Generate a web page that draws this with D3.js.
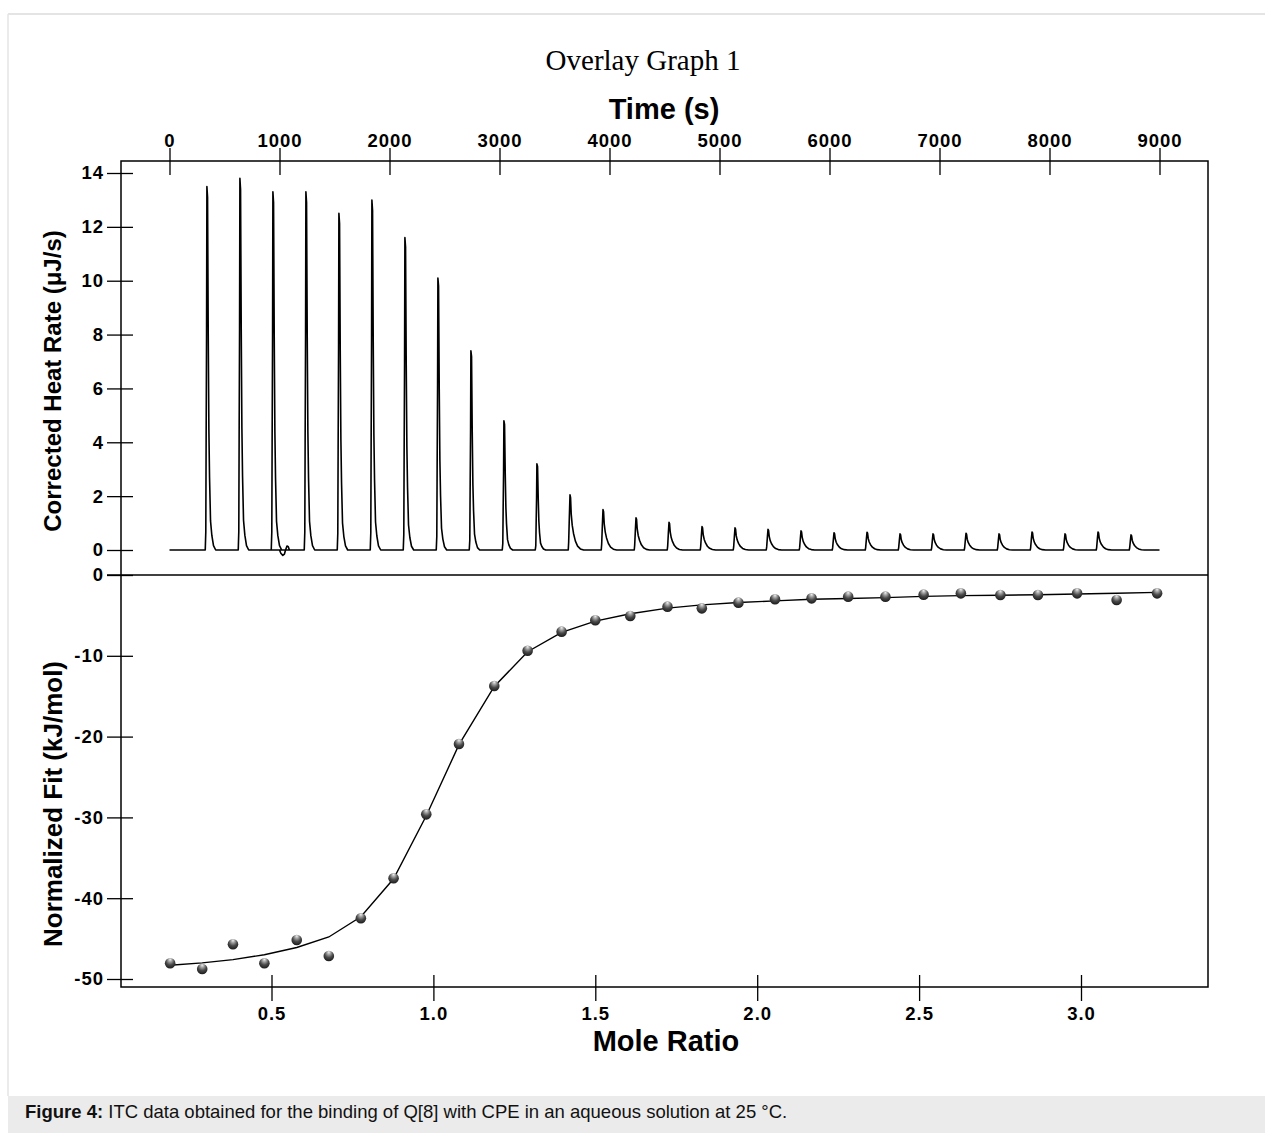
<!DOCTYPE html>
<html>
<head>
<meta charset="utf-8">
<script src="https://cdn.jsdelivr.net/npm/d3@7"></script>
<style>
    body { margin: 0; background: #fff; }
    svg { display: block; }
    .tick text { font-family: "Liberation Sans", Arial, sans-serif; font-weight: bold; font-size: 18.5px; letter-spacing: 1px; fill: #000; }
    .tick line { stroke: #000; stroke-width: 1.3; }
    .title { font-family: "Liberation Sans", Arial, sans-serif; font-weight: bold; fill: #000; }
</style>
</head>
<body>
<svg id="chart" width="1265" height="1133"></svg>
<script>
// injections (s) and the peak height of each one (uJ/s)
var injectionTimes = [325, 625, 925, 1225, 1525, 1825, 2125, 2425, 2725, 3025, 3325, 3625, 3925, 4225, 4525,
    4825, 5125, 5425, 5725, 6025, 6325, 6625, 6925, 7225, 7525, 7825, 8125, 8425, 8725];
var peakHeights = [13.5, 13.8, 13.3, 13.3, 12.5, 13.0, 11.6, 10.1, 7.4, 4.8, 3.2, 2.05, 1.5, 1.2, 1.03,
    0.87, 0.82, 0.77, 0.71, 0.64, 0.66, 0.6, 0.6, 0.62, 0.6, 0.67, 0.6, 0.67, 0.56];

// peak shapes: [seconds after injection, fraction of peak height]
var bigPeakShape = [[0, 0], [5, 0.05], [8, 0.3], [12, 0.6], [15, 1], [21, 0.97], [27, 0.6], [33, 0.33],
    [39, 0.2], [48, 0.08], [60, 0.04], [75, 0.012], [95, 0]];
var smallPeakShape = [[0, 0], [4, 0.15], [10, 0.6], [16, 1], [21, 0.95], [27, 0.65], [36, 0.45], [48, 0.3],
    [65, 0.16], [85, 0.07], [110, 0.02], [140, 0]];
// baseline wobble after the third injection: [time, uJ/s]
var baselineBlip = [[1000, 0], [1012, -0.12], [1030, -0.2], [1045, -0.15], [1055, 0], [1068, 0.15], [1080, 0.12], [1090, 0]];

// integrated heats and fit
var moleRatio = [0.187, 0.286, 0.381, 0.478, 0.578, 0.677, 0.776, 0.877, 0.978, 1.079, 1.188, 1.291, 1.396, 1.5, 1.608,
    1.723, 1.829, 1.942, 2.055, 2.168, 2.281, 2.396, 2.514, 2.629, 2.751, 2.867, 2.988, 3.11, 3.235];
var normalizedHeat = [-48.06, -48.76, -45.7, -48.06, -45.17, -47.15, -42.49, -37.54, -29.62, -20.92, -13.74, -9.37, -7.01, -5.6, -5.07,
    -3.92, -4.13, -3.42, -3.0, -2.89, -2.68, -2.68, -2.43, -2.27, -2.48, -2.48, -2.27, -3.09, -2.27];
var fitHeat = [-48.3, -48.0, -47.6, -47.0, -46.1, -44.8, -42.3, -37.6, -29.8, -21.0, -13.8, -9.5, -7.1, -5.7, -4.8,
    -4.1, -3.7, -3.4, -3.2, -3.0, -2.9, -2.8, -2.65, -2.55, -2.5, -2.45, -2.35, -2.25, -2.15];

var timeTicks = [0, 1000, 2000, 3000, 4000, 5000, 6000, 7000, 8000, 9000];
var heatRateTicks = [0, 2, 4, 6, 8, 10, 12, 14];
var fitTicks = [0, -10, -20, -30, -40, -50];
var ratioTicks = [0.5, 1.0, 1.5, 2.0, 2.5, 3.0];

var frame = { left: 121, right: 1208, top: 161, bottom: 987, split: 575 };

var svg = d3.select('#chart');

var xTime = d3.scaleLinear().domain([0, 9000]).range([169.5, 1159.5]);
var yRate = d3.scaleLinear().domain([0, 14]).range([550, 173]);
var xRatio = d3.scaleLinear().domain([0.5, 3.0]).range([271.5, 1081]);
var yFit = d3.scaleLinear().domain([0, -50]).range([frame.split, 979]);

function buildTrace() {
    var pts = [[0, 0]];
    injectionTimes.forEach(function(t, i) {
        var h = peakHeights[i];
        var shape = h > 3 ? bigPeakShape : smallPeakShape;
        shape.forEach(function(s) {
            pts.push([t + s[0], s[1] * h]);
        });
        if(i == 1) baselineBlip.forEach(function(b) { pts.push(b); });
    });
    pts.push([9000, 0]);
    return pts;
}

// page frame and caption band
svg.append('rect').attr('x', 0).attr('y', 0).attr('width', 1265).attr('height', 1133).attr('fill', '#fff');
svg.append('line').attr('x1', 8).attr('x2', 1265).attr('y1', 14).attr('y2', 14).attr('stroke', '#e4e4e4').attr('stroke-width', 2);
svg.append('line').attr('x1', 8).attr('x2', 8).attr('y1', 14).attr('y2', 1096).attr('stroke', '#e4e4e4').attr('stroke-width', 1.5);
svg.append('rect').attr('x', 8).attr('y', 1096).attr('width', 1257).attr('height', 37).attr('fill', '#ebebeb');

var caption = svg.append('text')
    .attr('x', 25).attr('y', 1118)
    .style('font-family', '"Liberation Sans", Arial, sans-serif')
    .style('font-size', '18.5px')
    .attr('fill', '#111');
caption.append('tspan').style('font-weight', 'bold').text('Figure 4:');
caption.append('tspan').text(' ITC data obtained for the binding of Q[8] with CPE in an aqueous solution at 25 \u00b0C.');

// titles
svg.append('text')
    .attr('x', 643).attr('y', 70)
    .attr('text-anchor', 'middle')
    .style('font-family', '"Liberation Serif", "Times New Roman", serif')
    .style('font-size', '29px')
    .text('Overlay Graph 1');

svg.append('text').classed('title', true)
    .attr('x', 664).attr('y', 119)
    .attr('text-anchor', 'middle')
    .style('font-size', '29px')
    .text('Time (s)');

svg.append('text').classed('title', true)
    .attr('x', 666).attr('y', 1051)
    .attr('text-anchor', 'middle')
    .style('font-size', '29px')
    .text('Mole Ratio');

svg.append('text').classed('title', true)
    .attr('transform', 'translate(61,381) rotate(-90)')
    .attr('text-anchor', 'middle')
    .style('font-size', '24px')
    .text('Corrected Heat Rate (\u03bcJ/s)');

svg.append('text').classed('title', true)
    .attr('transform', 'translate(62,804) rotate(-90)')
    .attr('text-anchor', 'middle')
    .style('font-size', '26px')
    .text('Normalized Fit (kJ/mol)');

// plot frame
svg.append('rect')
    .attr('x', frame.left).attr('y', frame.top)
    .attr('width', frame.right - frame.left).attr('height', frame.bottom - frame.top)
    .attr('fill', 'none').attr('stroke', '#000').attr('stroke-width', 1.5);

svg.append('line')
    .attr('x1', 107).attr('x2', frame.right)
    .attr('y1', frame.split).attr('y2', frame.split)
    .attr('stroke', '#000').attr('stroke-width', 1.5);

// axes, ticks cross the frame
var topAxis = svg.append('g')
    .attr('transform', 'translate(0,' + frame.top + ')')
    .call(d3.axisTop(xTime).tickValues(timeTicks).tickFormat(String).tickSize(14).tickPadding(0));
topAxis.selectAll('.tick line').attr('y2', -13).attr('y1', 14);

var leftTop = svg.append('g')
    .attr('transform', 'translate(' + frame.left + ',0)')
    .call(d3.axisLeft(yRate).tickValues(heatRateTicks).tickFormat(String).tickSize(14).tickPadding(3));
leftTop.selectAll('.tick line').attr('x1', 12);

var leftBottom = svg.append('g')
    .attr('transform', 'translate(' + frame.left + ',0)')
    .call(d3.axisLeft(yFit).tickValues(fitTicks).tickFormat(function(d) { return String(d); }).tickSize(14).tickPadding(3));
leftBottom.selectAll('.tick line').attr('x1', 12);

var bottomAxis = svg.append('g')
    .attr('transform', 'translate(0,' + frame.bottom + ')')
    .call(d3.axisBottom(xRatio).tickValues(ratioTicks).tickFormat(d3.format('.1f')).tickSize(14).tickPadding(6));
bottomAxis.selectAll('.tick line').attr('y1', -12);

svg.selectAll('.domain').remove();

// thermogram
var traceLine = d3.line()
    .x(function(d) { return xTime(d[0]); })
    .y(function(d) { return yRate(d[1]); });

svg.append('path')
    .datum(buildTrace())
    .attr('d', traceLine)
    .attr('fill', 'none')
    .attr('stroke', '#000')
    .attr('stroke-width', 1.6)
    .attr('stroke-linejoin', 'round');

// fit curve and data points
var fitLine = d3.line()
    .x(function(d, i) { return xRatio(moleRatio[i]); })
    .y(function(d) { return yFit(d); });

svg.append('path')
    .datum(fitHeat)
    .attr('d', fitLine)
    .attr('fill', 'none')
    .attr('stroke', '#000')
    .attr('stroke-width', 1.4);

var grad = svg.append('defs').append('radialGradient')
    .attr('id', 'ball')
    .attr('cx', '50%').attr('cy', '35%').attr('r', '65%')
    .attr('fx', '50%').attr('fy', '12%');
grad.append('stop').attr('offset', '0').attr('stop-color', '#f2f2f2');
grad.append('stop').attr('offset', '0.3').attr('stop-color', '#9a9a9a');
grad.append('stop').attr('offset', '0.6').attr('stop-color', '#4a4a4a');
grad.append('stop').attr('offset', '1').attr('stop-color', '#1a1a1a');

svg.append('g')
    .selectAll('circle')
    .data(normalizedHeat)
    .join('circle')
    .attr('cx', function(d, i) { return xRatio(moleRatio[i]); })
    .attr('cy', function(d) { return yFit(d); })
    .attr('r', 5.3)
    .attr('fill', 'url(#ball)');
</script>
</body>
</html>
